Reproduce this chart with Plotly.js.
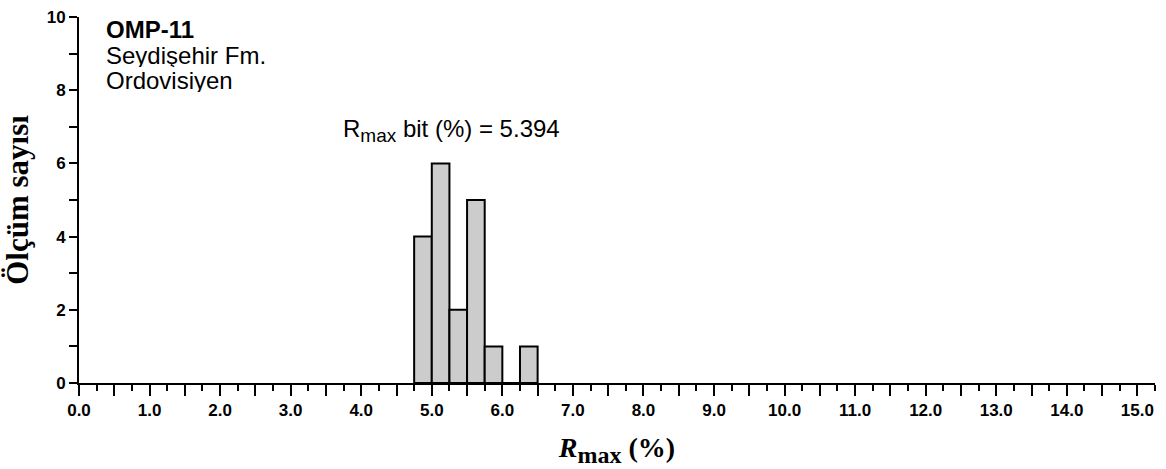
<!DOCTYPE html>
<html>
<head>
<meta charset="utf-8">
<script src="https://cdn.plot.ly/plotly-3.0.1.min.js"></script>
<style>html,body{margin:0;padding:0;background:#fff;}#chart{width:1166px;height:469px;}</style>
</head>
<body>
<div id="chart"></div>
<script>
// Histogram bins (centres, %) and counts
var binCenters = [4.875, 5.125, 5.375, 5.625, 5.875, 6.125, 6.375];
var binCounts = [4, 6, 2, 5, 1, 0, 1];
var binWidth = 0.25;

var xTickVals = [0,0.5,1,1.5,2,2.5,3,3.5,4,4.5,5,5.5,6,6.5,7,7.5,8,8.5,9,9.5,10,10.5,11,11.5,12,12.5,13,13.5,14,14.5,15];
var xTickText = ["0.0","","1.0","","2.0","","3.0","","4.0","","5.0","","6.0","","7.0","","8.0","","9.0","","10.0","","11.0","","12.0","","13.0","","14.0","","15.0"];
var yTickVals = [0, 2, 4, 6, 8, 10];
var yTickText = ["0", "2", "4", "6", "8", "10"];

var sampleLines = ["<b>OMP-11</b>", "Seydişehir Fm.", "Ordovisiyen"];
var meanLabel = "R<sub><span style='font-size:19px'>max</span></sub> bit (%) = 5.394";

var sans = "Liberation Sans, Arial, sans-serif";
var serif = "Liberation Serif, Times New Roman, serif";

var trace = {
  type: "bar",
  x: binCenters,
  y: binCounts,
  width: binWidth,
  marker: {color: "#cccccc", line: {color: "#000", width: 2}},
  hoverinfo: "x+y"
};

var annY = [0.967, 0.896, 0.828];
var annotations = sampleLines.map(function (t, i) {
  return {xref: "paper", yref: "paper", x: 0.0232, y: annY[i], xanchor: "left", yanchor: "middle",
    height: 24, valign: "middle",
    text: t, showarrow: false, font: {family: sans, size: 24, color: "#000"}};
});
annotations.push({xref: "paper", yref: "paper", x: 0.2435, y: 0.69, xanchor: "left", yanchor: "middle",
  text: meanLabel, showarrow: false, font: {family: sans, size: 24, color: "#000"}});

var layout = {
  width: 1166, height: 469,
  margin: {l: 79, r: 11, t: 17, b: 86},
  paper_bgcolor: "#fff", plot_bgcolor: "#fff",
  showlegend: false,
  bargap: 0,
  xaxis: {
    range: [0, 15.25], showgrid: false, zeroline: false,
    showline: true, linecolor: "#000", linewidth: 2,
    tickmode: "array", tickvals: xTickVals, ticktext: xTickText,
    ticks: "outside", ticklen: 11, tickwidth: 2, tickcolor: "#000",
    minor: {dtick: 0.25, tick0: 0, ticks: "outside", ticklen: 6, tickwidth: 2, tickcolor: "#000", showgrid: false},
    tickfont: {family: sans, size: 17, color: "#000", weight: "bold"},
    title: {text: "<i>R</i><sub><span style='font-size:24px'>max</span></sub> (%)", font: {family: serif, size: 28, color: "#000", weight: "bold"}, standoff: 18},
    automargin: false, fixedrange: true
  },
  yaxis: {
    range: [0, 10], showgrid: false, zeroline: false,
    showline: true, linecolor: "#000", linewidth: 2,
    tickmode: "array", tickvals: yTickVals, ticktext: yTickText,
    ticks: "outside", ticklen: 8, tickwidth: 2, tickcolor: "#000",
    minor: {dtick: 1, tick0: 0, ticks: "outside", ticklen: 8, tickwidth: 2, tickcolor: "#000", showgrid: false},
    tickfont: {family: sans, size: 17, color: "#000", weight: "bold"},
    title: {text: "Ölçüm sayısı", font: {family: serif, size: 31, color: "#000", weight: "bold"}, standoff: 12},
    automargin: false, fixedrange: true
  },
  annotations: annotations
};

Plotly.newPlot("chart", [trace], layout, {displayModeBar: false, staticPlot: true});
</script>
</body>
</html>
